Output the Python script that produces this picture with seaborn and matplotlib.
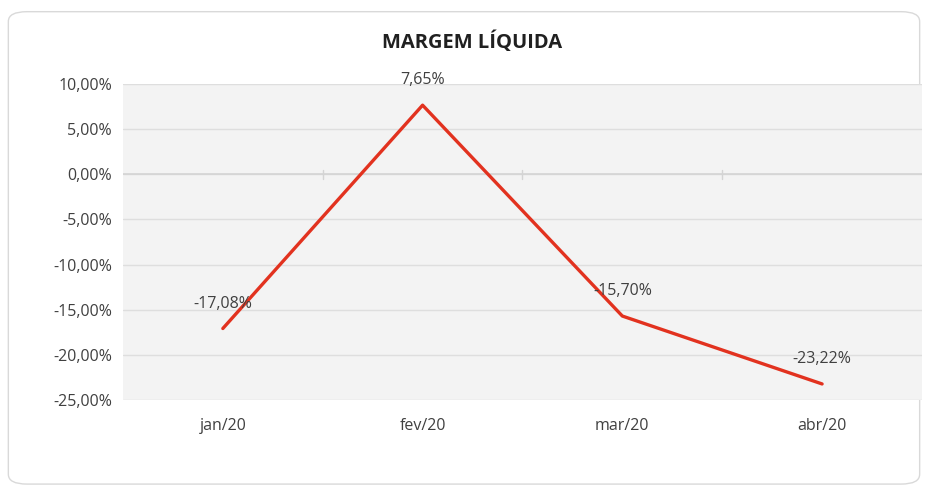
import matplotlib
matplotlib.use("Agg")
import matplotlib.pyplot as plt
import seaborn as sns
import pandas as pd
from matplotlib.patches import FancyBboxPatch

months = ["jan/20", "fev/20", "mar/20", "abr/20"]
margem = [-17.08, 7.65, -15.70, -23.22]
yticks = [10, 5, 0, -5, -10, -15, -20, -25]
title = "MARGEM LÍQUIDA"

sns.set_theme(style="white")
plt.rcParams['font.family'] = ['Open Sans', 'DejaVu Sans']

df = pd.DataFrame({"mes": months, "valor": margem, "idx": range(len(months))})

fig = plt.figure(figsize=(9.28, 4.87), dpi=100)
fig.patch.set_facecolor("white")
border = FancyBboxPatch((0.009, 0.006), 0.982, 0.97, boxstyle="round,pad=0,rounding_size=0.02",
                        transform=fig.transFigure, facecolor="white", edgecolor="#d9d9d9",
                        linewidth=1.0, zorder=-10)
fig.patches.append(border)

ax = fig.add_axes([0.1325, 0.1786, 0.861, 0.649])
ax.set_zorder(1)
ax.set_facecolor("#f3f3f3")
for yt in yticks:
    ax.axhline(yt, color="#dedede", linewidth=1.0, zorder=1)
ax.axhline(0, color="#d4d4d4", linewidth=1.2, zorder=1)
for i in range(len(months) - 1):
    ax.plot([i + 0.5, i + 0.5], [-0.5, 0.5], color="#d4d4d4", linewidth=1.0, zorder=1)

sns.lineplot(data=df, x="idx", y="valor", color="#e2321f", linewidth=2.4, ax=ax, zorder=3)

for i, v in enumerate(margem):
    ax.annotate(f"{v:.2f}%".replace(".", ","), (i, v), xytext=(0, 25), textcoords="offset pixels",
                ha="center", va="center", fontsize=11.5, color="#404040", zorder=4,
                annotation_clip=False)

ax.set_xlim(-0.5, len(months) - 0.5)
ax.set_ylim(-25, 10)
ax.set_xticks(range(len(months)))
ax.set_xticklabels(months, fontsize=11.5, color="#404040")
ax.set_yticks(yticks)
ax.set_yticklabels([f"{t:.2f}%".replace(".", ",") for t in yticks], fontsize=11.5, color="#404040")
ax.tick_params(axis="both", length=0, pad=8)
ax.tick_params(axis="x", pad=13)
ax.set_xlabel("")
ax.set_ylabel("")
for s in ax.spines.values():
    s.set_visible(False)

fig.text(0.509, 0.913, title, ha="center", va="center", fontsize=14.5, fontweight="bold", color="#202020")

fig.savefig("out.png", dpi=100)
